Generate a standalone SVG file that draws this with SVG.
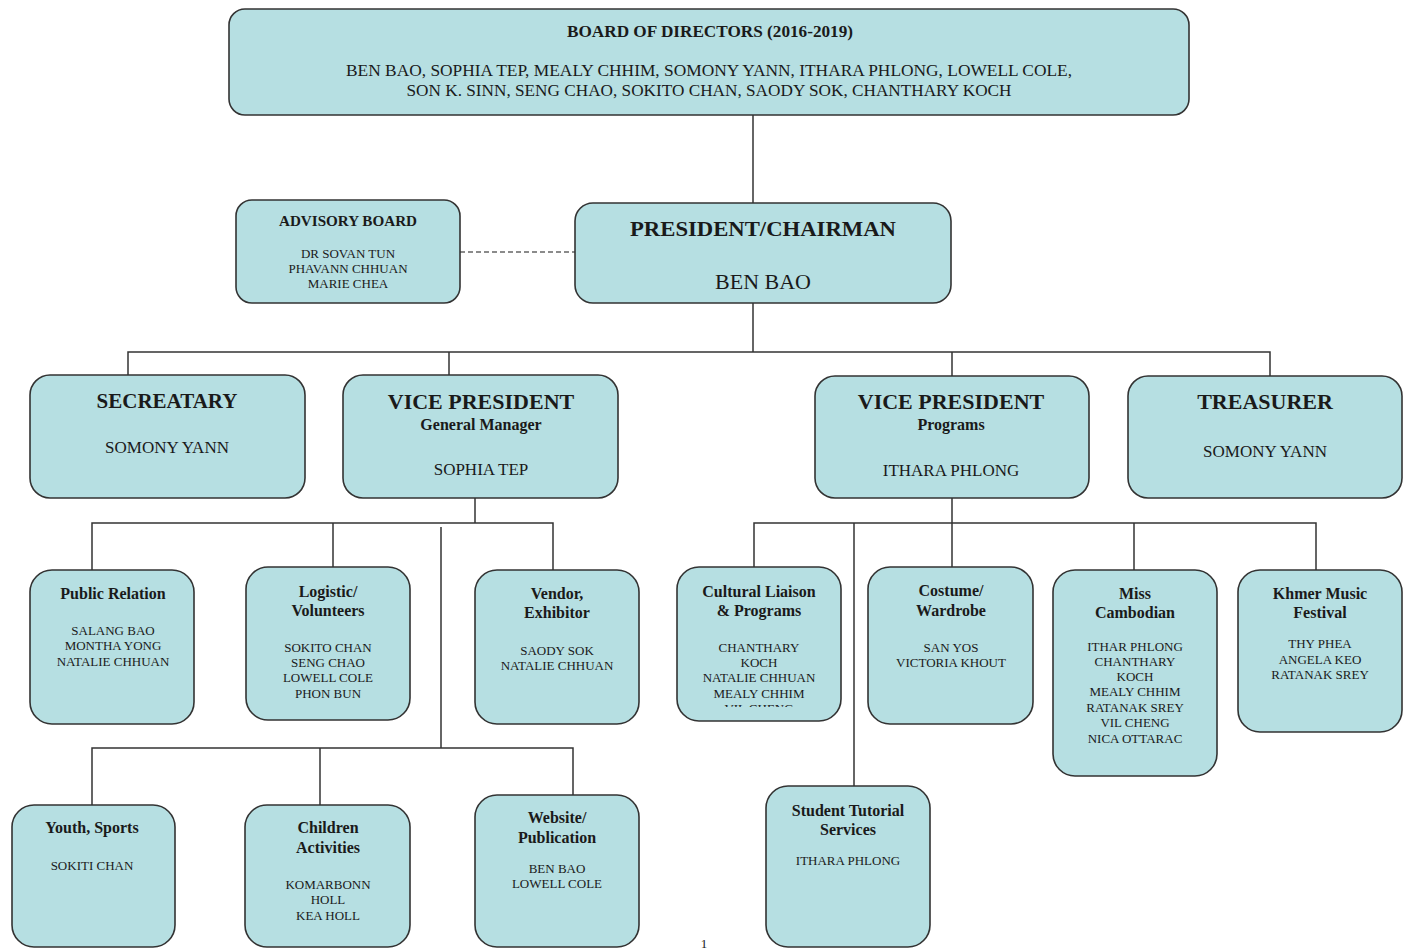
<svg xmlns="http://www.w3.org/2000/svg" width="1410" height="949" viewBox="0 0 1410 949">
<style>
.box{fill:#b6dfe2;stroke:#333;stroke-width:1.6}
.ln{stroke:#333;stroke-width:1.5;fill:none}
.dash{stroke:#666;stroke-width:1.5;stroke-dasharray:5 3;fill:none}
text{font-family:"Liberation Serif","Times New Roman",serif;fill:#1a1a1a;text-anchor:middle}
.t16{font-size:16px;font-weight:bold}
.t22{font-size:22px;font-weight:bold}
.n13{font-size:13px}
.n17{font-size:17px}
.n22{font-size:22px}
</style>
<defs>
<clipPath id="clipCult"><rect x="677" y="567" width="165" height="140"/></clipPath>
</defs>
<rect width="1410" height="949" fill="#fff"/>
<g id="connectors">
<line class="ln" x1="753" y1="115" x2="753" y2="203"/>
<line class="dash" x1="460" y1="252" x2="575" y2="252"/>
<line class="ln" x1="753" y1="303" x2="753" y2="352"/>
<polyline class="ln" points="128,375 128,352 1270,352 1270,376"/>
<line class="ln" x1="449" y1="352" x2="449" y2="375"/>
<line class="ln" x1="952" y1="352" x2="952" y2="376"/>
<line class="ln" x1="475" y1="498" x2="475" y2="523"/>
<polyline class="ln" points="92,570 92,523 553,523 553,570"/>
<line class="ln" x1="333" y1="523" x2="333" y2="567"/>
<line class="ln" x1="441" y1="527" x2="441" y2="748"/>
<polyline class="ln" points="92,805 92,748 573,748 573,795"/>
<line class="ln" x1="320" y1="748" x2="320" y2="805"/>
<line class="ln" x1="952" y1="498" x2="952" y2="567"/>
<polyline class="ln" points="754,568 754,523 1316,523 1316,570"/>
<line class="ln" x1="1134" y1="523" x2="1134" y2="570"/>
<line class="ln" x1="854" y1="523" x2="854" y2="787"/>
</g>
<g id="board">
<rect class="box" x="229" y="9" width="960" height="106" rx="16"/>
<text x="710" y="37" style="font-size:16px;font-weight:bold" textLength="286" lengthAdjust="spacingAndGlyphs">BOARD OF DIRECTORS (2016-2019)</text>
<text x="709" y="76" class="n17" textLength="726" lengthAdjust="spacingAndGlyphs">BEN BAO, SOPHIA TEP, MEALY CHHIM, SOMONY YANN, ITHARA PHLONG, LOWELL COLE,</text>
<text x="709" y="96" class="n17" textLength="605" lengthAdjust="spacingAndGlyphs">SON K. SINN, SENG CHAO, SOKITO CHAN, SAODY SOK, CHANTHARY KOCH</text>
</g>
<g id="advisory">
<rect class="box" x="236" y="200" width="224" height="103" rx="16"/>
<text x="348" y="226" style="font-size:15px;font-weight:bold" textLength="138" lengthAdjust="spacingAndGlyphs">ADVISORY BOARD</text>
<text x="348" y="258" class="n13">DR SOVAN TUN</text>
<text x="348" y="273" class="n13">PHAVANN CHHUAN</text>
<text x="348" y="288" class="n13">MARIE CHEA</text>
</g>
<g id="president">
<rect class="box" x="575" y="203" width="376" height="100" rx="18"/>
<text x="763" y="236" class="t22" textLength="266" lengthAdjust="spacingAndGlyphs">PRESIDENT/CHAIRMAN</text>
<text x="763" y="289" class="n22">BEN BAO</text>
</g>
<g id="secretary">
<rect class="box" x="30" y="375" width="275" height="123" rx="20"/>
<text x="167" y="408" class="t22" style="font-size:21px">SECREATARY</text>
<text x="167" y="453" class="n17">SOMONY YANN</text>
</g>
<g id="vp-gm">
<rect class="box" x="343" y="375" width="275" height="123" rx="20"/>
<text x="481" y="409" class="t22">VICE PRESIDENT</text>
<text x="481" y="430" class="t16">General Manager</text>
<text x="481" y="475" class="n17">SOPHIA TEP</text>
</g>
<g id="vp-programs">
<rect class="box" x="815" y="376" width="274" height="122" rx="20"/>
<text x="951" y="409" class="t22">VICE PRESIDENT</text>
<text x="951" y="430" class="t16">Programs</text>
<text x="951" y="476" class="n17">ITHARA PHLONG</text>
</g>
<g id="treasurer">
<rect class="box" x="1128" y="376" width="274" height="122" rx="20"/>
<text x="1265" y="409" class="t22">TREASURER</text>
<text x="1265" y="457" class="n17">SOMONY YANN</text>
</g>
<g id="public-relation">
<rect class="box" x="30" y="570" width="164" height="154" rx="22"/>
<text x="113" y="599" class="t16">Public Relation</text>
<text x="113" y="635" class="n13">SALANG BAO</text>
<text x="113" y="650" class="n13">MONTHA YONG</text>
<text x="113" y="666" class="n13">NATALIE CHHUAN</text>
</g>
<g id="logistic">
<rect class="box" x="246" y="567" width="164" height="153" rx="22"/>
<text x="328" y="597" class="t16">Logistic/</text>
<text x="328" y="616" class="t16">Volunteers</text>
<text x="328" y="652" class="n13">SOKITO CHAN</text>
<text x="328" y="667" class="n13">SENG CHAO</text>
<text x="328" y="682" class="n13">LOWELL COLE</text>
<text x="328" y="698" class="n13">PHON BUN</text>
</g>
<g id="vendor">
<rect class="box" x="475" y="570" width="164" height="154" rx="22"/>
<text x="557" y="599" class="t16">Vendor,</text>
<text x="557" y="618" class="t16">Exhibitor</text>
<text x="557" y="655" class="n13">SAODY SOK</text>
<text x="557" y="670" class="n13">NATALIE CHHUAN</text>
</g>
<g id="cultural">
<rect class="box" x="677" y="567" width="164" height="154" rx="22"/>
<text x="759" y="597" class="t16">Cultural Liaison</text>
<text x="759" y="616" class="t16">&amp; Programs</text>
<text x="759" y="652" class="n13">CHANTHARY</text>
<text x="759" y="667" class="n13">KOCH</text>
<text x="759" y="682" class="n13">NATALIE CHHUAN</text>
<text x="759" y="698" class="n13">MEALY CHHIM</text>
<text x="759" y="713" class="n13" clip-path="url(#clipCult)">VIL CHENG</text>
</g>
<g id="costume">
<rect class="box" x="868" y="567" width="165" height="157" rx="22"/>
<text x="951" y="596" class="t16">Costume/</text>
<text x="951" y="616" class="t16">Wardrobe</text>
<text x="951" y="652" class="n13">SAN YOS</text>
<text x="951" y="667" class="n13">VICTORIA KHOUT</text>
</g>
<g id="miss-cambodian">
<rect class="box" x="1053" y="570" width="164" height="206" rx="22"/>
<text x="1135" y="599" class="t16">Miss</text>
<text x="1135" y="618" class="t16">Cambodian</text>
<text x="1135" y="651" class="n13">ITHAR PHLONG</text>
<text x="1135" y="666" class="n13">CHANTHARY</text>
<text x="1135" y="681" class="n13">KOCH</text>
<text x="1135" y="696" class="n13">MEALY CHHIM</text>
<text x="1135" y="712" class="n13">RATANAK SREY</text>
<text x="1135" y="727" class="n13">VIL CHENG</text>
<text x="1135" y="743" class="n13">NICA OTTARAC</text>
</g>
<g id="khmer-music">
<rect class="box" x="1238" y="570" width="164" height="162" rx="22"/>
<text x="1320" y="599" class="t16">Khmer Music</text>
<text x="1320" y="618" class="t16">Festival</text>
<text x="1320" y="648" class="n13">THY PHEA</text>
<text x="1320" y="664" class="n13">ANGELA KEO</text>
<text x="1320" y="679" class="n13">RATANAK SREY</text>
</g>
<g id="youth">
<rect class="box" x="12" y="805" width="163" height="142" rx="22"/>
<text x="92" y="833" class="t16">Youth, Sports</text>
<text x="92" y="870" class="n13">SOKITI CHAN</text>
</g>
<g id="children">
<rect class="box" x="245" y="805" width="165" height="142" rx="22"/>
<text x="328" y="833" class="t16">Children</text>
<text x="328" y="853" class="t16">Activities</text>
<text x="328" y="889" class="n13">KOMARBONN</text>
<text x="328" y="904" class="n13">HOLL</text>
<text x="328" y="920" class="n13">KEA HOLL</text>
</g>
<g id="website">
<rect class="box" x="475" y="795" width="164" height="152" rx="22"/>
<text x="557" y="823" class="t16">Website/</text>
<text x="557" y="843" class="t16">Publication</text>
<text x="557" y="873" class="n13">BEN BAO</text>
<text x="557" y="888" class="n13">LOWELL COLE</text>
</g>
<g id="student-tutorial">
<rect class="box" x="766" y="786" width="164" height="161" rx="22"/>
<text x="848" y="816" class="t16">Student Tutorial</text>
<text x="848" y="835" class="t16">Services</text>
<text x="848" y="865" class="n13">ITHARA PHLONG</text>
</g>
<text x="704" y="948" style="font-size:13px">1</text>
</svg>
